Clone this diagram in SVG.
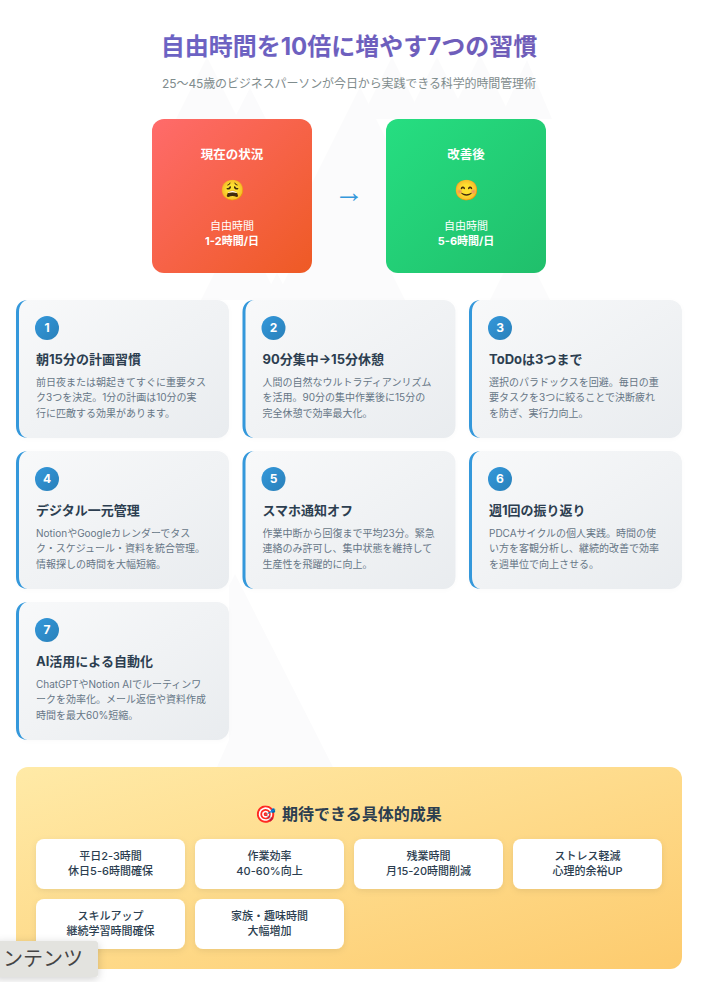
<svg xmlns="http://www.w3.org/2000/svg" width="702" height="982" viewBox="0 0 702 982">
<style>
text{font-family:"Inter","Noto Sans CJK JP","Noto Sans",sans-serif}
.c{text-anchor:middle}
.card{fill:url(#gc);filter:url(#s1)}
.bar{fill:#3498db}
.num{fill:url(#gn)}
.n{font-size:12px;font-weight:700;fill:#fff;text-anchor:middle}
.t{font-size:13px;font-weight:700;fill:#2c3e50}
.d{font-size:10px;fill:#667686}
.w{font-size:11px;fill:#fff;text-anchor:middle}
.h{font-size:12.5px;font-weight:700;fill:#fff;text-anchor:middle}
.b{font-weight:700}
.r{fill:#fff;filter:url(#s2)}
.rt{font-size:11px;font-weight:500;fill:#2c3e50;text-anchor:middle}
.m{fill:#fbfbfc}
</style>
<defs>
<linearGradient id="gt" x1="0" y1="0" x2="1" y2="0"><stop offset="0" stop-color="#6c63c4"/><stop offset="1" stop-color="#6f5cb8"/></linearGradient>
<linearGradient id="gr" x1="0" y1="0" x2="1" y2="1"><stop offset="0" stop-color="#ff6b6b"/><stop offset="1" stop-color="#ee5a24"/></linearGradient>
<linearGradient id="gg" x1="0" y1="0" x2="1" y2="1"><stop offset="0" stop-color="#26de81"/><stop offset="1" stop-color="#20bf6b"/></linearGradient>
<linearGradient id="gc" x1="0" y1="0" x2="1" y2="1"><stop offset="0" stop-color="#f8f9fa"/><stop offset="1" stop-color="#e9ecef"/></linearGradient>
<linearGradient id="gn" x1="0" y1="0" x2="1" y2="1"><stop offset="0" stop-color="#3498db"/><stop offset="1" stop-color="#2980b9"/></linearGradient>
<linearGradient id="gy" x1="0" y1="0" x2="1" y2="1"><stop offset="0" stop-color="#ffeaa7"/><stop offset="1" stop-color="#fdcb6e"/></linearGradient>
<filter id="s1" x="-10%" y="-10%" width="120%" height="125%"><feDropShadow dx="0" dy="1" stdDeviation="2" flood-color="#000" flood-opacity="0.02"/></filter>
<filter id="s2" x="-10%" y="-20%" width="120%" height="150%"><feDropShadow dx="0" dy="2" stdDeviation="3" flood-color="#000" flood-opacity="0.08"/></filter>
<filter id="s3" x="-20%" y="-30%" width="140%" height="170%"><feDropShadow dx="0" dy="2" stdDeviation="4" flood-color="#000" flood-opacity="0.18"/></filter>
<path id="bar" d="M28 0C20 0 16 5 16 12V126C16 133 20 138 28 138C23 138 19 133 19 126V12C19 5 23 0 28 0Z"/>
</defs>
<rect width="702" height="982" fill="#fff"/>
<g id="background">
<path class="m" d="M207 57L176 119H238Z"/>
<path class="m" d="M250 88L234 119H266Z"/>
<path class="m" d="M360 87L267 273H453Z"/>
<path class="m" d="M392 57L361 119H423Z"/>
<path class="m" d="M437 57L406 119H468Z"/>
<path class="m" d="M480 55L448 119H512Z"/>
<path class="m" d="M527 60L500 119H552Z"/>
<path class="m" d="M240 222L201 300H279Z"/>
<path class="m" d="M277 273L263 300H291Z"/>
<path class="m" d="M340 170L275 300H405Z"/>
<path class="m" d="M520 240L490 300H550Z"/>
<path class="m" d="M235 574L333 767H217L229 740V586Z"/>
</g>
<g id="title"><text x="349" y="55" class="c" font-size="24" font-weight="700" fill="url(#gt)">自由時間を10倍に増やす7つの習慣</text>
<text x="349" y="88" class="c" font-size="12" letter-spacing="-0.11" fill="#7f8c8d">25〜45歳のビジネスパーソンが今日から実践できる科学的時間管理術</text></g>
<g id="before"><rect x="152" y="119" width="160" height="154" rx="12" fill="url(#gr)"/>
<text x="232" y="159" class="h">現在の状況</text>
<text x="232" y="197" class="c" font-size="20">😩</text>
<text x="232" y="230" class="w">自由時間</text><text x="232" y="245" class="w b">1-2時間/日</text></g>
<g id="after"><rect x="386" y="119" width="160" height="154" rx="12" fill="url(#gg)"/>
<text x="466" y="159" class="h">改善後</text>
<text x="466" y="197" class="c" font-size="20">😊</text>
<text x="466" y="230" class="w">自由時間</text><text x="466" y="245" class="w b">5-6時間/日</text></g>
<g id="connectors"><text x="349" y="202" class="c" font-size="30" style="font-family:'Liberation Sans',sans-serif" fill="#3498db">→</text></g>
<g id="card1" transform="translate(0,300)"><rect class="card" x="16" width="213" height="138" rx="12"/><use href="#bar" class="bar"/><circle class="num" cx="47" cy="28" r="12"/><text class="n" x="47" y="32">1</text><text class="t" x="36" y="64">朝15分の計画習慣</text><text class="d" x="36" y="86">前日夜または朝起きてすぐに重要タス</text><text class="d" x="36" y="101">ク3つを決定。1分の計画は10分の実</text><text class="d" x="36" y="117">行に匹敵する効果があります。</text></g>
<g id="card2" transform="translate(226.5,300)"><rect class="card" x="16" width="213" height="138" rx="12"/><use href="#bar" class="bar"/><circle class="num" cx="47" cy="28" r="12"/><text class="n" x="47" y="32">2</text><text class="t" x="36" y="64">90分集中→15分休憩</text><text class="d" x="36" y="86">人間の自然なウルトラディアンリズム</text><text class="d" x="36" y="101">を活用。90分の集中作業後に15分の</text><text class="d" x="36" y="117">完全休憩で効率最大化。</text></g>
<g id="card3" transform="translate(453,300)"><rect class="card" x="16" width="213" height="138" rx="12"/><use href="#bar" class="bar"/><circle class="num" cx="47" cy="28" r="12"/><text class="n" x="47" y="32">3</text><text class="t" x="36" y="64">ToDoは3つまで</text><text class="d" x="36" y="86">選択のパラドックスを回避。毎日の重</text><text class="d" x="36" y="101">要タスクを3つに絞ることで決断疲れ</text><text class="d" x="36" y="117">を防ぎ、実行力向上。</text></g>
<g id="card4" transform="translate(0,451)"><rect class="card" x="16" width="213" height="138" rx="12"/><use href="#bar" class="bar"/><circle class="num" cx="47" cy="28" r="12"/><text class="n" x="47" y="32">4</text><text class="t" x="36" y="64">デジタル一元管理</text><text class="d" x="36" y="86">NotionやGoogleカレンダーでタス</text><text class="d" x="36" y="101">ク・スケジュール・資料を統合管理。</text><text class="d" x="36" y="117">情報探しの時間を大幅短縮。</text></g>
<g id="card5" transform="translate(226.5,451)"><rect class="card" x="16" width="213" height="138" rx="12"/><use href="#bar" class="bar"/><circle class="num" cx="47" cy="28" r="12"/><text class="n" x="47" y="32">5</text><text class="t" x="36" y="64">スマホ通知オフ</text><text class="d" x="36" y="86">作業中断から回復まで平均23分。緊急</text><text class="d" x="36" y="101">連絡のみ許可し、集中状態を維持して</text><text class="d" x="36" y="117">生産性を飛躍的に向上。</text></g>
<g id="card6" transform="translate(453,451)"><rect class="card" x="16" width="213" height="138" rx="12"/><use href="#bar" class="bar"/><circle class="num" cx="47" cy="28" r="12"/><text class="n" x="47" y="32">6</text><text class="t" x="36" y="64">週1回の振り返り</text><text class="d" x="36" y="86">PDCAサイクルの個人実践。時間の使</text><text class="d" x="36" y="101">い方を客観分析し、継続的改善で効率</text><text class="d" x="36" y="117">を週単位で向上させる。</text></g>
<g id="card7" transform="translate(0,602)"><rect class="card" x="16" width="213" height="138" rx="12"/><use href="#bar" class="bar"/><circle class="num" cx="47" cy="28" r="12"/><text class="n" x="47" y="32">7</text><text class="t" x="36" y="64">AI活用による自動化</text><text class="d" x="36" y="86">ChatGPTやNotion AIでルーティンワ</text><text class="d" x="36" y="101">ークを効率化。メール返信や資料作成</text><text class="d" x="36" y="117">時間を最大60%短縮。</text></g>
<g id="results"><rect x="16" y="767" width="666" height="202" rx="12" fill="url(#gy)"/>
<text y="820" font-size="16" font-weight="700" fill="#2c3e50"><tspan x="255" font-size="17">🎯</tspan><tspan x="282">期待できる具体的成果</tspan></text></g>
<g id="r1"><rect class="r" x="36" y="839" width="149" height="50" rx="8"/><text class="rt" x="110.500" y="860">平日2-3時間</text><text class="rt" x="110.500" y="875">休日5-6時間確保</text></g>
<g id="r2"><rect class="r" x="195" y="839" width="149" height="50" rx="8"/><text class="rt" x="269.500" y="860">作業効率</text><text class="rt" x="269.500" y="875">40-60%向上</text></g>
<g id="r3"><rect class="r" x="354" y="839" width="149" height="50" rx="8"/><text class="rt" x="428.500" y="860">残業時間</text><text class="rt" x="428.500" y="875">月15-20時間削減</text></g>
<g id="r4"><rect class="r" x="513" y="839" width="149" height="50" rx="8"/><text class="rt" x="587.500" y="860">ストレス軽減</text><text class="rt" x="587.500" y="875">心理的余裕UP</text></g>
<g id="r5"><rect class="r" x="36" y="899" width="149" height="50" rx="8"/><text class="rt" x="110.500" y="920">スキルアップ</text><text class="rt" x="110.500" y="935">継続学習時間確保</text></g>
<g id="r6"><rect class="r" x="195" y="899" width="149" height="50" rx="8"/><text class="rt" x="269.500" y="920">家族・趣味時間</text><text class="rt" x="269.500" y="935">大幅増加</text></g>
<g id="tab"><rect x="-6" y="941" width="104" height="36" rx="3" fill="#e3e3df" filter="url(#s3)"/><text x="3" y="966" font-size="20" fill="#444">ンテンツ</text></g>
</svg>
